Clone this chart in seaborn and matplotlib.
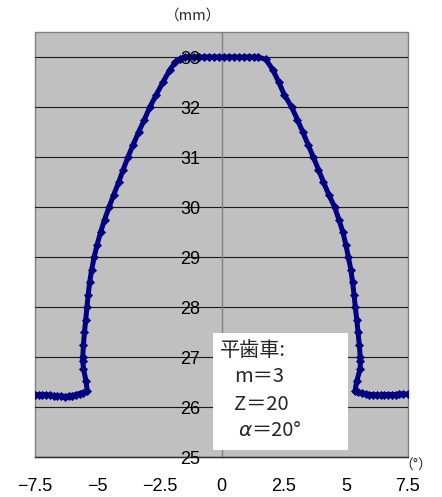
import pandas as pd
import matplotlib
matplotlib.use("Agg")
import matplotlib.pyplot as plt
from matplotlib.patches import Rectangle
import seaborn as sns

# tooth profile: angle (deg) vs radius (mm)
tooth_angle = [
    -7.5, -7.35, -7.2, -7.05, -6.9, -6.75, -6.6, -6.45, -6.3, -6.15, -6.0, -5.85, -5.7, -5.55, -5.40,
    -5.45, -5.55, -5.58, -5.58, -5.55, -5.51, -5.46, -5.41, -5.36, -5.30, -5.22, -5.12, -5.00, -4.86,
    -4.70, -4.52, -4.33, -4.13, -3.95, -3.76, -3.55, -3.33, -3.10, -2.88, -2.62, -2.35, -2.07, -1.85,
    -1.65, -1.48,
    -1.3, -1.1, -0.9, -0.7, -0.5, -0.3, -0.1, 0.1, 0.3, 0.5, 0.7, 0.9, 1.1, 1.3, 1.48,
    1.78, 2.06, 2.30, 2.52, 2.82, 3.05, 3.27, 3.48, 3.69, 3.90, 4.10, 4.31, 4.55, 4.72, 4.88, 5.00,
    5.10, 5.20, 5.27, 5.33, 5.38, 5.44, 5.49, 5.54, 5.58, 5.58, 5.58, 5.44, 5.37,
    5.5, 5.65, 5.8, 5.95, 6.1, 6.25, 6.4, 6.55, 6.7, 6.85, 7.0, 7.15, 7.3, 7.5,
]
tooth_radius = [
    26.25, 26.25, 26.25, 26.24, 26.24, 26.23, 26.22, 26.22, 26.21, 26.22, 26.23, 26.25, 26.27, 26.29, 26.32,
    26.52, 26.77, 26.92, 27.0, 27.25, 27.5, 27.75, 28.0, 28.25, 28.5, 28.75, 29.0, 29.25, 29.5,
    29.75, 30.0, 30.25, 30.5, 30.75, 31.0, 31.25, 31.5, 31.75, 32.0, 32.25, 32.5, 32.75, 32.9,
    32.97, 33.0,
    33.0, 33.0, 33.0, 33.0, 33.0, 33.0, 33.0, 33.0, 33.0, 33.0, 33.0, 33.0, 33.0, 33.0, 33.0,
    32.95, 32.75, 32.5, 32.25, 32.0, 31.75, 31.5, 31.25, 31.0, 30.75, 30.5, 30.25, 30.0, 29.75, 29.5, 29.25,
    29.0, 28.75, 28.5, 28.25, 28.0, 27.75, 27.5, 27.25, 27.0, 26.92, 26.77, 26.52, 26.32,
    26.30, 26.28, 26.26, 26.25, 26.25, 26.24, 26.24, 26.25, 26.25, 26.25, 26.25, 26.26, 26.26, 26.26,
]

x_ticks = [-7.5, -5, -2.5, 0, 2.5, 5, 7.5]
x_tick_labels = ["\u22127.5", "\u22125", "\u22122.5", "0", "2.5", "5", "7.5"]
y_ticks = [25, 26, 27, 28, 29, 30, 31, 32, 33]
y_tick_labels = [str(v) for v in y_ticks]

gear_lines = ["平歯車:", "m＝3", "Z＝20"]
alpha_text = "＝20°"

W, H = 442, 497


def fx(px):
    return px / W


def fy(py):
    return 1 - py / H


sns.set_theme(style="white")
plt.rcParams["font.family"] = ["Liberation Sans", "Noto Sans CJK JP", "DejaVu Sans"]
cjk = ["Noto Sans CJK JP", "DejaVu Sans"]

fig = plt.figure(figsize=(W / 100, H / 100), dpi=100)
fig.patch.set_facecolor("white")
ax = fig.add_axes([fx(35), fy(457), fx(408) - fx(35), fy(32) - fy(457)])
ax.set_facecolor("#c0c0c0")
ax.patch.set_edgecolor("#808080")
ax.patch.set_linewidth(1.0)

# horizontal grid lines under the curve
for v in y_ticks:
    ax.axhline(v, color="#1a1a1a", linewidth=0.8, zorder=1)

df = pd.DataFrame({"angle": tooth_angle, "radius": tooth_radius})
sns.lineplot(
    data=df, x="angle", y="radius",
    sort=False, estimator=None,
    color="#000080", linewidth=3.6,
    marker="D", markersize=3.8, markeredgewidth=0.6, markeredgecolor="#000080",
    ax=ax, zorder=2,
)

ax.set_xlim(-7.5, 7.5)
ax.set_ylim(25, 33.5)
ax.set_xlabel("")
ax.set_ylabel("")

# y axis crosses at x = 0
ax.spines["left"].set_position(("data", 0))
ax.spines["left"].set_color("#808080")
ax.spines["left"].set_linewidth(1.0)
ax.spines["left"].set_zorder(1.5)
ax.spines["top"].set_visible(False)
ax.spines["right"].set_visible(False)
ax.spines["bottom"].set_color("#333333")
ax.spines["bottom"].set_linewidth(1.0)

ax.set_xticks(x_ticks, labels=x_tick_labels)
ax.set_yticks(y_ticks, labels=y_tick_labels)
ax.tick_params(axis="x", direction="in", length=4, width=1, color="#333333",
               pad=15, labelsize=13, labelcolor="black")
ax.tick_params(axis="y", length=0, pad=15.5, labelsize=13, labelcolor="black")
ax.set_axisbelow(False)
ax.grid(False)

# unit labels
fig.text(fx(193), fy(16), "（mm）", family=cjk, fontsize=10.5, ha="center", va="center")
fig.text(fx(416), fy(466), "（°）", family=cjk, fontsize=10, ha="center", va="center")

# white info box
box = Rectangle((fx(213), fy(450)), fx(348) - fx(213), fy(333) - fy(450),
                transform=fig.transFigure, facecolor="white", edgecolor="none", zorder=3)
fig.add_artist(box)

line_pos = [(220, 350), (234, 377), (234, 404)]
for txt, (px, py) in zip(gear_lines, line_pos):
    fig.text(fx(px), fy(py), txt, family=cjk, fontsize=14.5, ha="left", va="center", zorder=4)
fig.text(fx(238), fy(430), "α", family=["DejaVu Sans"], fontstyle="italic",
         fontsize=14.5, ha="left", va="center", zorder=4)
fig.text(fx(251), fy(430), alpha_text, family=cjk, fontsize=14.5, ha="left", va="center", zorder=4)

fig.savefig("out.png", dpi=100)
